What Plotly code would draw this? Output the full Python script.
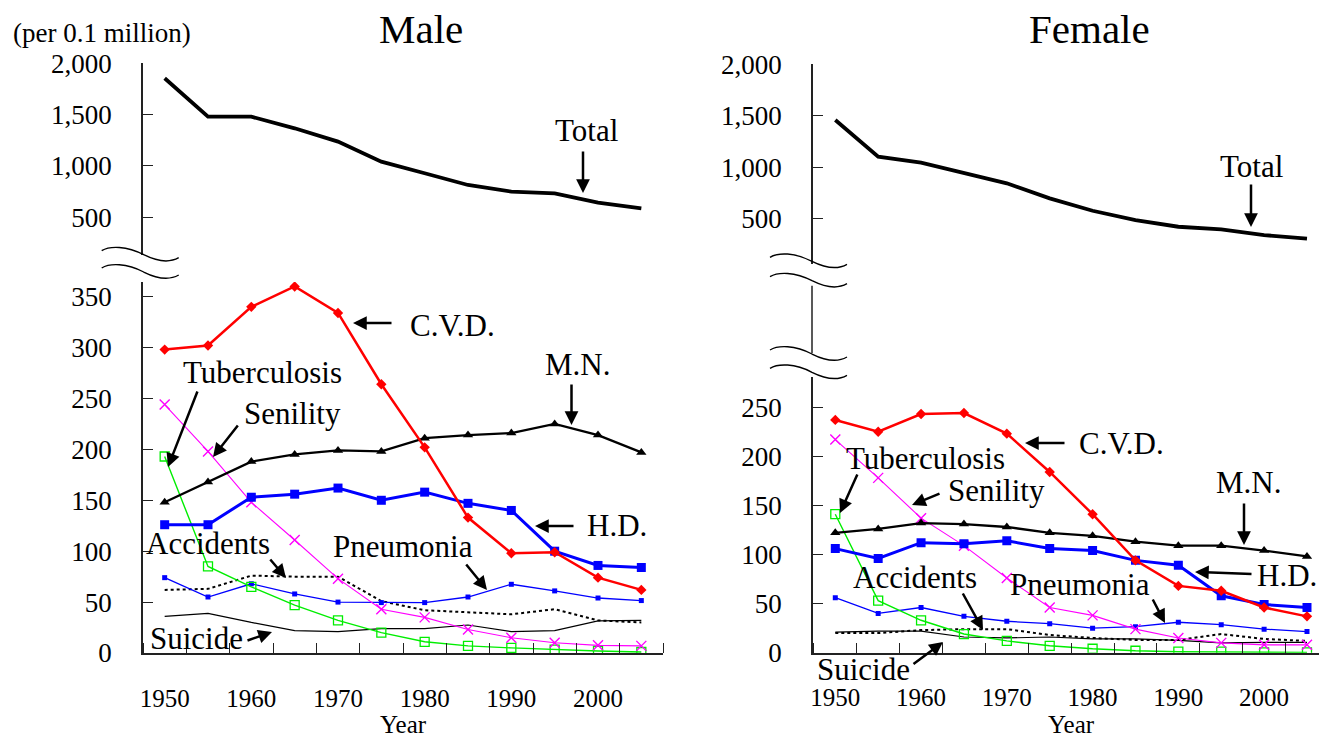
import plotly.graph_objects as go

# ---------------- data ----------------
years = [1950, 1955, 1960, 1965, 1970, 1975, 1980, 1985, 1990, 1995, 2000, 2005]
label_years = [1950, 1960, 1970, 1980, 1990, 2000]

male_total = [1854, 1480, 1480, 1367, 1237, 1042, 929, 815, 750, 734, 643, 588]
male_cvd = [298, 302, 340, 360, 334, 264, 202, 133, 98, 99, 74, 62]
male_mn = [148, 168, 188, 195, 199, 198, 211, 214, 216, 225, 214, 197]
male_hd = [126, 126, 153, 156, 162, 150, 158, 147, 140, 100, 86, 84]
male_senility = [244, 198, 148, 111, 73, 43, 35, 23, 15, 10, 7.5, 7]
male_tb = [193, 85, 65, 47, 32, 20, 11, 7, 5, 3.3, 2, 1]
male_pneumonia = [74, 55, 68, 58, 50, 49.5, 49.5, 55, 67.5, 61, 54, 51.5]
male_accidents = [62, 63, 76, 75, 75, 51, 42, 40, 38, 43, 32, 30]
male_suicide = [36, 39, 30, 22, 21, 24, 24, 27.5, 21, 22, 31.5, 32]

female_total = [1459, 1102, 1044, 941, 844, 698, 577, 487, 422, 396, 341, 306]
female_cvd = [237, 225, 243, 244, 223, 184, 141, 94, 68, 63, 46, 37]
female_mn = [122, 126, 132, 131, 128, 122, 119, 113, 109, 109, 104, 98]
female_hd = [106, 96, 112, 111, 114, 106, 104, 94, 89, 58, 49, 46]
female_senility = [217, 178, 137, 109, 76, 46, 38, 24, 15, 10, 8, 8]
female_tb = [141, 53, 33, 19, 12, 7, 4, 2, 1, 1, 0.3, 0.3]
female_pneumonia = [56, 40, 46, 37, 32, 29.5, 25, 26.5, 31, 28.5, 24, 21.5]
female_accidents = [20, 20, 23, 24, 24, 18, 15, 13, 13, 19, 14, 12]
female_suicide = [21, 22, 22, 16, 15, 16, 14, 14, 12.5, 10, 10.5, 10.5]

top_ticks = [500, 1000, 1500, 2000]
male_low_ticks = [0, 50, 100, 150, 200, 250, 300, 350]
female_low_ticks = [0, 50, 100, 150, 200, 250]

# ---------------- geometry helpers ----------------
W, H = 1319, 740
FONT = "Liberation Serif, Times New Roman, serif"


def fx(px):
    return px / W


def fy(py):
    return 1 - py / H


styles = {
    "Suicide": dict(mode="lines", line=dict(color="black", width=1.2)),
    "Accidents": dict(mode="lines", line=dict(color="black", width=2, dash="dot")),
    "Pneumonia": dict(mode="lines+markers", line=dict(color="#0000FF", width=1.3),
                      marker=dict(symbol="square", size=5, color="#0000FF")),
    "Tuberculosis": dict(mode="lines+markers", line=dict(color="#00EE00", width=1.4),
                         marker=dict(symbol="square-open", size=9, color="#00EE00",
                                     line=dict(width=1.3, color="#00EE00"))),
    "Senility": dict(mode="lines+markers", line=dict(color="#FF00FF", width=1.1),
                     marker=dict(symbol="x-thin", size=10, color="#FF00FF",
                                 line=dict(width=1.4, color="#FF00FF"))),
    "H.D.": dict(mode="lines+markers", line=dict(color="#0000FF", width=3),
                 marker=dict(symbol="square", size=9, color="#0000FF")),
    "M.N.": dict(mode="lines+markers", line=dict(color="black", width=2.3),
                 marker=dict(symbol="triangle-up", size=9, color="black")),
    "C.V.D.": dict(mode="lines+markers", line=dict(color="#FF0000", width=2.5),
                   marker=dict(symbol="diamond", size=8, color="#FF0000")),
}

fig = go.Figure()

male_series = [("Suicide", male_suicide), ("Accidents", male_accidents),
               ("Pneumonia", male_pneumonia), ("Tuberculosis", male_tb),
               ("Senility", male_senility), ("H.D.", male_hd), ("M.N.", male_mn),
               ("C.V.D.", male_cvd)]
female_series = [("Suicide", female_suicide), ("Accidents", female_accidents),
                 ("Pneumonia", female_pneumonia), ("Tuberculosis", female_tb),
                 ("Senility", female_senility), ("H.D.", female_hd), ("M.N.", female_mn),
                 ("C.V.D.", female_cvd)]

for name, vals in male_series:
    fig.add_trace(go.Scatter(x=years, y=vals, name=name, xaxis="x", yaxis="y",
                             showlegend=False, **styles[name]))
fig.add_trace(go.Scatter(x=years, y=male_total, name="Total", xaxis="x2", yaxis="y2",
                         mode="lines", line=dict(color="black", width=3.8), showlegend=False))

for name, vals in female_series:
    fig.add_trace(go.Scatter(x=years, y=vals, name=name, xaxis="x3", yaxis="y3",
                             showlegend=False, **styles[name]))
fig.add_trace(go.Scatter(x=years, y=female_total, name="Total", xaxis="x4", yaxis="y4",
                         mode="lines", line=dict(color="black", width=3.8), showlegend=False))

AX = "#222222"
xtickfont = dict(family=FONT, size=25, color="black")
ytickfont = dict(family=FONT, size=27, color="black")


def xaxis_cfg(domain, rng, anchor, show=True):
    if not show:
        return dict(domain=domain, range=rng, anchor=anchor, visible=False)
    return dict(domain=domain, range=rng, anchor=anchor, showline=True, linecolor=AX,
                linewidth=1.5, showgrid=False, zeroline=False, tickmode="array",
                tickvals=label_years, ticks="", tickfont=xtickfont, ticklabelstandoff=22,
                automargin=False,
                minor=dict(tickmode="linear", tick0=1947.5, dtick=5, ticks="inside",
                           ticklen=10, tickwidth=1.3, tickcolor=AX, showgrid=False))


def yaxis_cfg(domain, rng, anchor, tickvals, fmt=""):
    return dict(domain=domain, range=rng, anchor=anchor, showline=True, linecolor=AX,
                linewidth=1.5, showgrid=False, zeroline=False, tickmode="array",
                tickvals=tickvals, tickformat=fmt, ticks="inside", ticklen=10,
                tickwidth=1.3, tickcolor=AX, tickfont=ytickfont, ticklabelstandoff=24,
                automargin=False)


male_x = [fx(143), fx(663)]
fem_x = [fx(813), 1.0]
x_rng_m = [1947.5, 2007.5]
x_rng_f = [1947.4, 2006.4]

fig.update_layout(
    width=W, height=H, autosize=False,
    margin=dict(l=0, r=0, t=0, b=0, pad=0, autoexpand=False),
    paper_bgcolor="white", plot_bgcolor="white",
    showlegend=False,
    xaxis=xaxis_cfg(male_x, x_rng_m, "y"),
    yaxis=yaxis_cfg([fy(653), fy(282)], [0, 364.4], "x", male_low_ticks),
    xaxis2=xaxis_cfg(male_x, x_rng_m, "y2", show=False),
    yaxis2=yaxis_cfg([fy(255), fy(63.3)], [133, 2000], "x2", top_ticks, ","),
    xaxis3=xaxis_cfg(fem_x, x_rng_f, "y3"),
    yaxis3=yaxis_cfg([fy(652.7), fy(376.7)], [0, 281], "x3", female_low_ticks),
    xaxis4=xaxis_cfg(fem_x, x_rng_f, "y4", show=False),
    yaxis4=yaxis_cfg([fy(264), fy(64.3)], [60, 2000], "x4", top_ticks, ","),
)

# ---------------- axis break squiggles ----------------
def squiggle(x0, y0):
    pts = [(0, 0), (8, -5), (25, -5), (42, 4), (58, 12), (70, 11), (77, 7)]
    p = [(fx(x0 + dx), fy(y0 + dy)) for dx, dy in pts]
    path = "M {:.5f},{:.5f} C {:.5f},{:.5f} {:.5f},{:.5f} {:.5f},{:.5f} C {:.5f},{:.5f} {:.5f},{:.5f} {:.5f},{:.5f}".format(
        p[0][0], p[0][1], p[1][0], p[1][1], p[2][0], p[2][1], p[3][0], p[3][1],
        p[4][0], p[4][1], p[5][0], p[5][1], p[6][0], p[6][1])
    return dict(type="path", path=path, xref="paper", yref="paper",
                line=dict(color="black", width=1.4))


shapes = [squiggle(101.7, 250.7), squiggle(101.7, 268),
          squiggle(770, 257.3), squiggle(770, 276.7),
          squiggle(770, 350), squiggle(770, 368.3),
          dict(type="line", xref="paper", yref="paper", x0=fx(812), x1=fx(812),
               y0=fy(285.7), y1=fy(353.3), line=dict(color=AX, width=1.5))]
fig.update_layout(shapes=shapes)

# ---------------- texts and arrows ----------------
def text(s, x, y, size=31):
    fig.add_annotation(x=fx(x), y=fy(y), xref="paper", yref="paper", text=s,
                       showarrow=False, xanchor="center", yanchor="middle",
                       font=dict(family=FONT, size=size, color="black"))


def arrow(tail, tip):
    fig.add_annotation(x=fx(tip[0]), y=fy(tip[1]), xref="paper", yref="paper",
                       ax=tail[0] - tip[0], ay=tail[1] - tip[1], axref="pixel", ayref="pixel",
                       text="", showarrow=True, arrowhead=2, arrowsize=1.1,
                       arrowwidth=2.5, arrowcolor="black")


text("Male", 421, 29, 41)
text("Female", 1089, 29, 41)
text("(per 0.1 million)", 102, 33, 27)
text("Year", 403, 724, 25)
text("Year", 1071, 724, 25)

# male labels
text("Total", 586, 130)
arrow((583, 150), (583, 193))
text("C.V.D.", 452, 325)
arrow((393, 323), (353, 323))
text("M.N.", 577, 364)
arrow((571.5, 383), (571.5, 425))
text("Tuberculosis", 262.5, 373)
arrow((198, 390), (168, 467))
text("Senility", 292, 413)
arrow((239, 424), (213, 457))
text("H.D.", 617, 525)
arrow((575, 526), (535, 526))
text("Accidents", 208, 543)
arrow((269, 558), (286, 578))
text("Pneumonia", 403, 546)
arrow((465, 563), (487, 590))
text("Suicide", 196, 638)
arrow((246, 641), (272, 632))

# female labels
text("Total", 1251, 166)
arrow((1251, 183), (1251, 227))
text("C.V.D.", 1121, 443)
arrow((1066, 443), (1025, 443))
text("M.N.", 1248, 482)
arrow((1244, 502), (1244, 545))
text("Tuberculosis", 925, 458)
arrow((858, 473), (840, 513))
text("Senility", 996, 490)
arrow((941, 493), (912, 505))
text("H.D.", 1287, 575)
arrow((1253, 574), (1195, 572))
text("Accidents", 915, 577)
arrow((962, 592), (983, 630))
text("Pneumonia", 1080, 584)
arrow((1152, 598), (1165, 623))
text("Suicide", 863, 669)
arrow((912, 665), (943, 642))

post = "document.body.style.margin='0'; document.body.style.overflow='hidden';"

fig.write_html("out.html", post_script=post, config={"displayModeBar": False})
